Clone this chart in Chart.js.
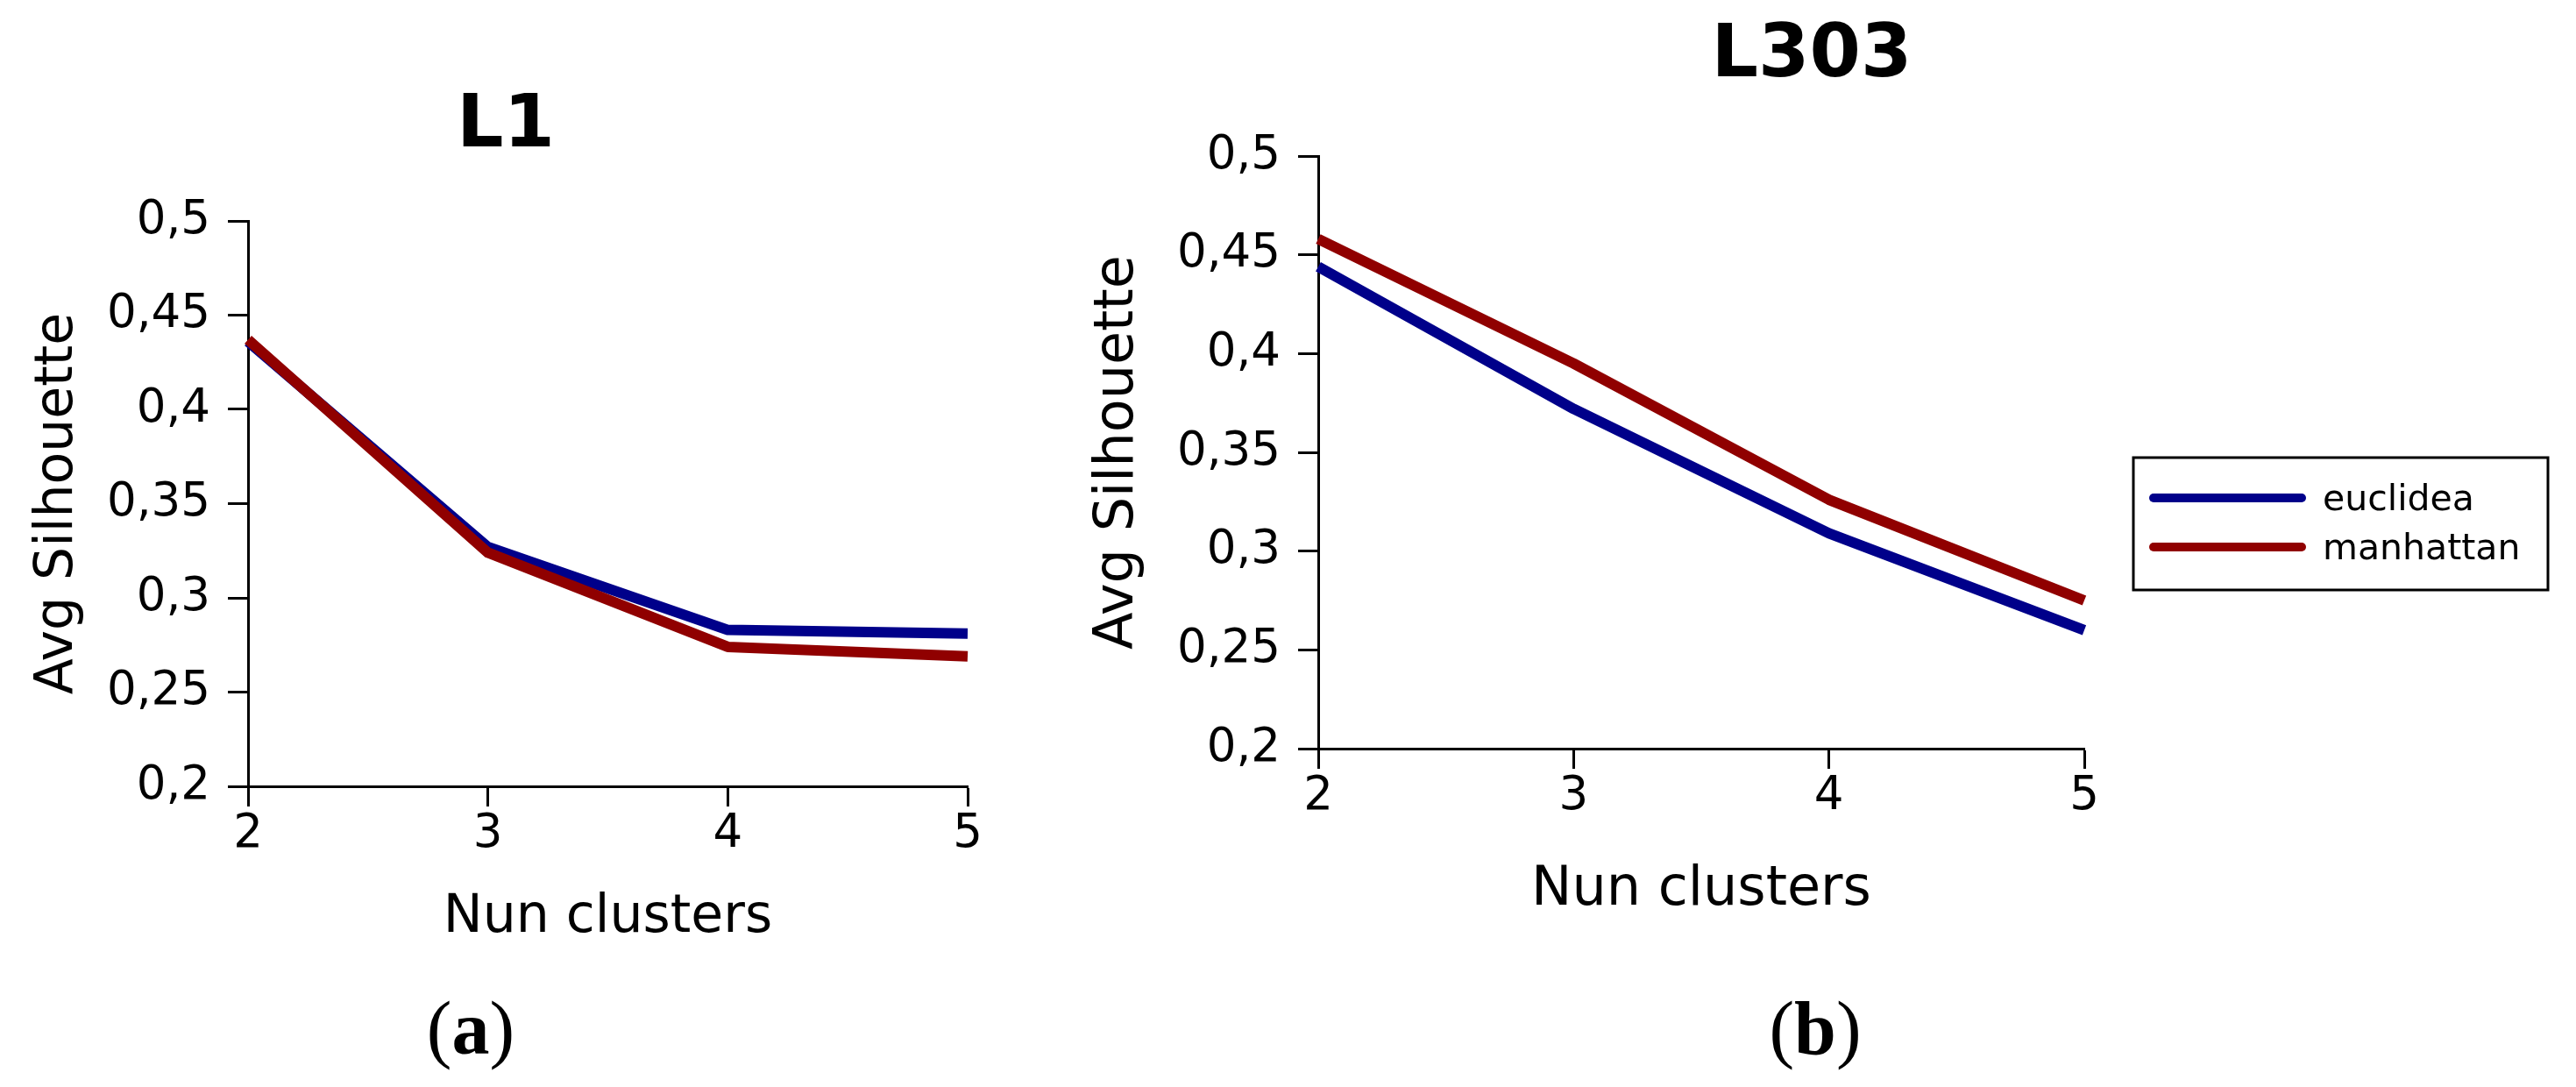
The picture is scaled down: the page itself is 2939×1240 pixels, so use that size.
<!DOCTYPE html>
<html>
<head>
<meta charset="utf-8">
<title>Avg Silhouette L1 / L303</title>
<script src="https://cdn.jsdelivr.net/npm/chart.js@4.4.1/dist/chart.umd.min.js"></script>
<style>
  html, body { margin: 0; padding: 0; background: #fff; }
  body { width: 2939px; height: 1240px; position: relative; overflow: hidden; }
  .panel { position: absolute; top: 0; height: 1100px; }
  #panelA { left: 0; width: 1200px; }
  #panelB { left: 1200px; width: 1739px; }
  .caption {
    position: absolute; top: 1123px; width: 200px; height: 100px; line-height: 100px;
    text-align: center; font-family: "Liberation Serif", serif; font-size: 86px; color: #000;
  }
</style>
</head>
<body>
<div class="panel" id="panelA"><canvas id="chartL1"></canvas></div>
<div class="panel" id="panelB"><canvas id="chartL303"></canvas></div>
<div class="caption" style="left:437px">(<b>a</b>)</div>
<div class="caption" style="left:1971px">(<b>b</b>)</div>

<script>
// values
const nClusters = ["2", "3", "4", "5"];
const yTicks = [0.2, 0.25, 0.3, 0.35, 0.4, 0.45, 0.5];
const yTickLabels = ["0,2", "0,25", "0,3", "0,35", "0,4", "0,45", "0,5"];
const seriesNames = ["euclidea", "manhattan"];

const l1Euclidea = [0.436, 0.327, 0.283, 0.281];
const l1Manhattan = [0.437, 0.324, 0.274, 0.269];

const l303Euclidea = [0.444, 0.372, 0.309, 0.260];
const l303Manhattan = [0.458, 0.395, 0.326, 0.275];

const blue = "#00008a";
const red = "#900000";

Chart.defaults.font.family = "'DejaVu Sans', sans-serif";
Chart.defaults.color = "#000";

// big bold panel title
const panelText = {
  id: "panelText",
  afterDraw(chart, args, opts) {
    const ctx = chart.ctx;
    ctx.save();
    ctx.font = "bold 84px 'DejaVu Sans'";
    ctx.fillStyle = "#000";
    ctx.textAlign = "center";
    ctx.textBaseline = "middle";
    ctx.fillText(opts.text, opts.x, opts.y);
    ctx.restore();
  }
};

// legend drawn as a framed box, like the original
const boxLegend = {
  id: "boxLegend",
  afterDraw(chart, args, opts) {
    const ctx = chart.ctx;
    ctx.save();
    ctx.lineWidth = 3;
    ctx.strokeStyle = "#000";
    ctx.strokeRect(opts.left, opts.top, opts.width, opts.height);
    ctx.font = "41px 'DejaVu Sans'";
    ctx.textBaseline = "middle";
    ctx.textAlign = "left";
    chart.data.datasets.forEach((ds, i) => {
      const y = opts.rows[i];
      ctx.beginPath();
      ctx.lineWidth = 10;
      ctx.lineCap = "round";
      ctx.strokeStyle = ds.borderColor;
      ctx.moveTo(opts.lineX1, y);
      ctx.lineTo(opts.lineX2, y);
      ctx.stroke();
      ctx.fillStyle = "#000";
      ctx.fillText(ds.label, opts.textX, y + 3);
    });
    ctx.restore();
  }
};

function axisGrid() {
  return {
    drawOnChartArea: false,
    drawTicks: true,
    offset: false,
    tickLength: 23,
    tickWidth: 3,
    tickColor: "#000",
    color: "#000"
  };
}

function makeChart(id, euclidea, manhattan, cfg) {
  return new Chart(document.getElementById(id), {
    type: "line",
    data: {
      labels: nClusters,
      datasets: [
        { label: seriesNames[0], data: euclidea, borderColor: blue, order: 1 },
        { label: seriesNames[1], data: manhattan, borderColor: red, order: 0 }
      ]
    },
    options: {
      responsive: true,
      maintainAspectRatio: false,
      devicePixelRatio: 1,
      animation: false,
      layout: { padding: { top: cfg.padTop, right: cfg.padRight, left: 0, bottom: 0 } },
      elements: {
        line: { borderWidth: 12, tension: 0, fill: false, borderCapStyle: "butt", borderJoinStyle: "round" },
        point: { radius: 0, hoverRadius: 0 }
      },
      scales: {
        x: {
          type: "category",
          offset: false,
          afterFit: s => { s.height = cfg.xHeight; },
          ticks: { font: { size: 53 }, color: "#000", padding: 0, maxRotation: 0, autoSkip: false },
          grid: axisGrid(),
          border: { display: true, color: "#000", width: 3 },
          title: { display: true, text: "Nun clusters", color: "#000", font: { size: cfg.titleSize }, padding: { top: 0, bottom: cfg.xTitlePad } }
        },
        y: {
          type: "linear",
          min: 0.2,
          max: 0.5,
          afterFit: s => { s.width = cfg.yWidth; },
          afterBuildTicks: s => { s.ticks = yTicks.map(v => ({ value: v })); },
          ticks: { font: { size: 53 }, color: "#000", padding: 20, callback: (v, i) => yTickLabels[i] },
          grid: axisGrid(),
          border: { display: true, color: "#000", width: 3 },
          title: { display: true, text: "Avg Silhouette", color: "#000", font: { size: cfg.titleSize }, padding: { top: cfg.yTitlePad, bottom: 0 } }
        }
      },
      plugins: {
        legend: { display: false },
        tooltip: { enabled: false },
        panelText: cfg.title,
        boxLegend: cfg.legend || false
      }
    },
    plugins: cfg.legend ? [panelText, boxLegend] : [panelText]
  });
}

makeChart("chartL1", l1Euclidea, l1Manhattan, {
  padTop: 252, padRight: 96, yWidth: 283, xHeight: 203,
  titleSize: 60, xTitlePad: 17, yTitlePad: 30,
  title: { text: "L1", x: 577, y: 145 }
});

makeChart("chartL303", l303Euclidea, l303Manhattan, {
  padTop: 178, padRight: 561, yWidth: 304, xHeight: 246,
  titleSize: 62, xTitlePad: 47, yTitlePad: 39,
  title: { text: "L303", x: 867, y: 65 },
  legend: { left: 1234, top: 522, width: 473, height: 151, lineX1: 1257, lineX2: 1426, textX: 1450, rows: [568, 624] }
});
</script>
</body>
</html>
